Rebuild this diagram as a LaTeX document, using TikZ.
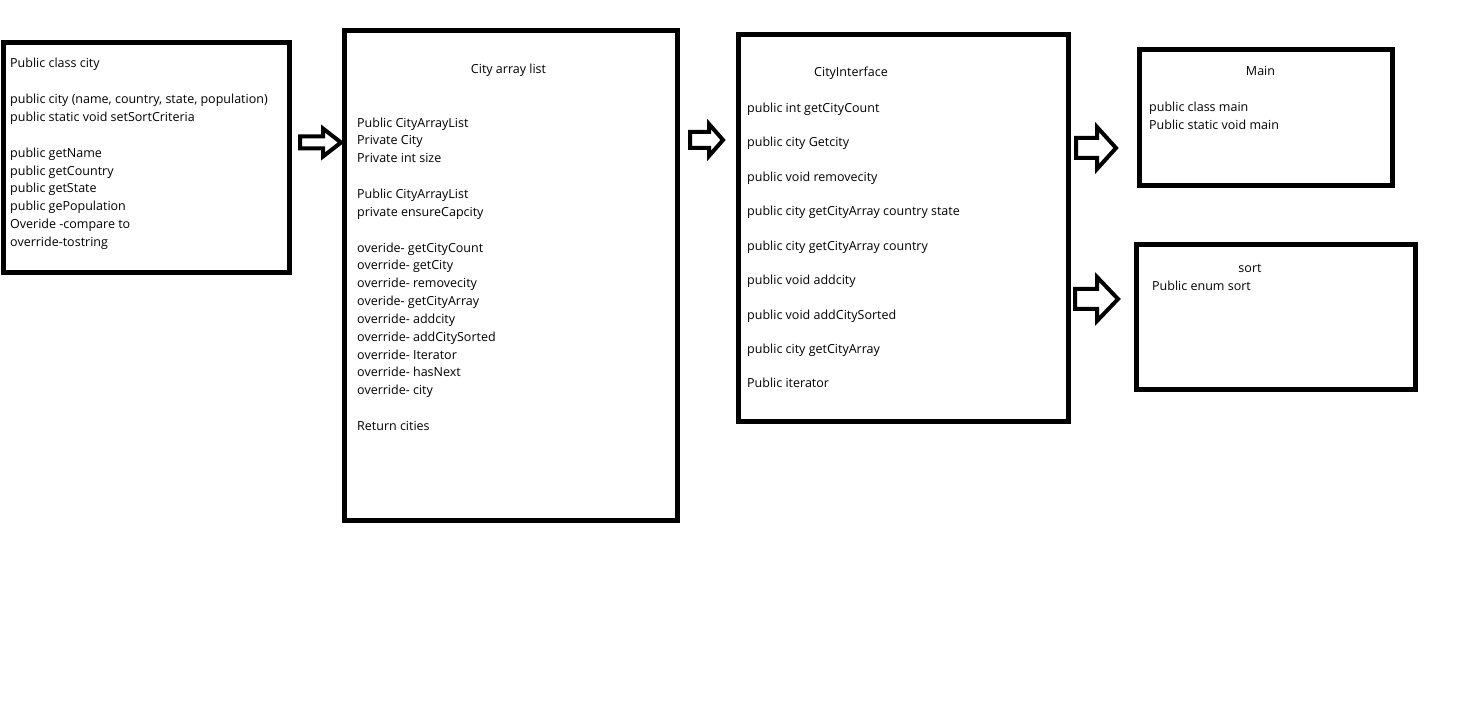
\documentclass[tikz,border=0pt]{standalone}
\usepackage{fontspec}
\setmainfont{Open Sans}
\newcommand{\fatarrow}[5]{%
  \draw[fatline] (#1) ++(0,-#4) -- ++({#2-#3},0) -- ++(0,{#4-#5}) -- ++(#3,#5)
    -- ++(-#3,#5) -- ++(0,{#4-#5}) -- ++({#3-#2},0) -- cycle;}
\begin{document}
\begin{tikzpicture}[x=1pt,y=-1pt,
    box/.style={draw, line width=5pt, inner sep=0pt},
    txt/.style={anchor=base west, align=left, inner sep=0pt,
        font=\fontsize{12.5}{17.85}\selectfont},
    ttl/.style={anchor=base, inner sep=0pt, font=\fontsize{12.5}{17.85}\selectfont},
    fatline/.style={line width=4pt, line join=miter}]
        \useasboundingbox (0,0) rectangle (1465,703);
        % boxes
        \node[box, minimum width=286.5pt, minimum height=230pt] (city) at (146.25,157.5) {};
        \node[box, minimum width=333pt, minimum height=490pt] (list) at (511,275.5) {};
        \node[box, minimum width=330pt, minimum height=387pt] (iface) at (903.5,228) {};
        \node[box, minimum width=253pt, minimum height=136pt] (main) at (1266,117.5) {};
        \node[box, minimum width=279pt, minimum height=145pt] (sort) at (1276,317) {};
        % texts (anchored at the baseline of their last line)
        \node[txt] (citytxt) at (10,246.5) {Public class city\\[17.85pt]
            public city (name, country, state, population)\\
            public static void setSortCriteria\\[17.85pt]
            public getName\\ public getCountry\\ public getState\\
            public gePopulation\\ Overide -compare to\\ override-tostring};
        \node[ttl] (listttl) at (508.5,74) {City array list};
        \node[txt] (listtxt) at (357,430.5) {Public CityArrayList\\ Private City\\
            Private int size\\[17.85pt]
            Public CityArrayList\\ private ensureCapcity\\[17.85pt]
            overide- getCityCount\\ override- getCity\\ override- removecity\\
            overide- getCityArray\\ override- addcity\\ override- addCitySorted\\
            override- Iterator\\ override- hasNext\\ override- city\\[17.85pt]
            Return cities};
        \node[ttl] (ifacettl) at (851,76.5) {CityInterface};
        \node[txt] (ifacetxt) at (747,388) {public int getCityCount\\[16.6pt]
            public city Getcity\\[16.6pt] public void removecity\\[16.6pt]
            public city getCityArray country state\\[16.6pt]
            public city getCityArray country\\[16.6pt] public void addcity\\[16.6pt]
            public void addCitySorted\\[16.6pt] public city getCityArray\\[16.6pt]
            Public iterator};
        \node[ttl] (mainttl) at (1260.5,75.3) {Main};
        \node[txt] (maintxt) at (1149,129.3) {public class main\\ Public static void main};
        \node[ttl] (sortttl) at (1250,272.3) {sort};
        \node[txt] (sorttxt) at (1152,290.7) {Public enum sort};
        % arrows
        \coordinate (a1) at (300,142.5);
        \coordinate (a2) at (690,140);
        \coordinate (a3) at (1076,148);
        \coordinate (a4) at (1075,299);
        \fatarrow{a1}{41}{18}{6}{14}
        \fatarrow{a2}{33}{14}{8}{16}
        \fatarrow{a3}{40}{19}{10}{21}
        \fatarrow{a4}{43}{21}{10}{22}
\end{tikzpicture}
\end{document}
